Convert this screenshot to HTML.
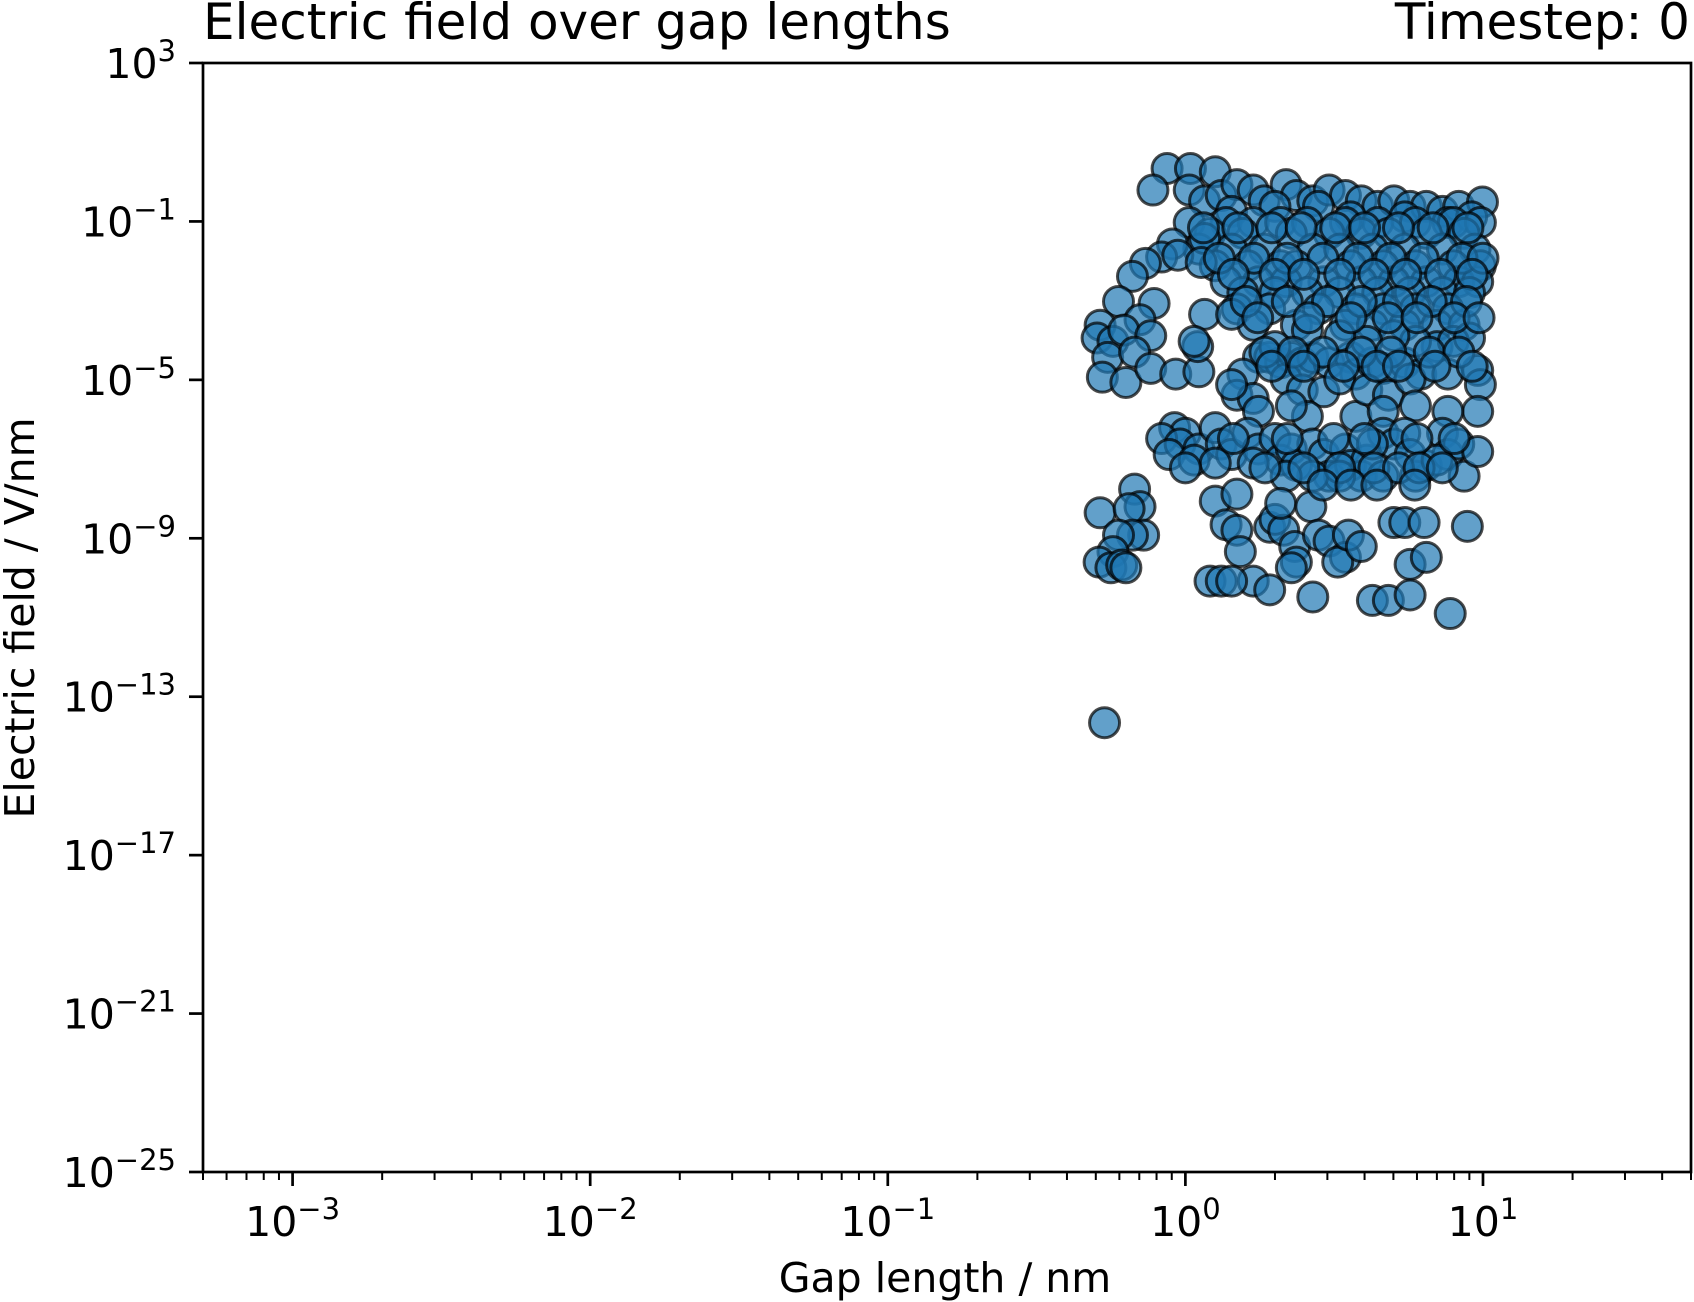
<!DOCTYPE html>
<html><head><meta charset="utf-8">
<style>
html,body{margin:0;padding:0;background:#fff;}
svg{display:block;font-family:"DejaVu Sans","Liberation Sans",sans-serif;}
</style></head>
<body>
<svg id="chart" width="1694" height="1302" viewBox="0 0 1694 1302" xmlns="http://www.w3.org/2000/svg">
<rect width="1694" height="1302" fill="#fff"/>
<text x="203" y="39" font-size="50">Electric field over gap lengths</text>
<text x="1690" y="39" font-size="50" text-anchor="end">Timestep: 0</text>
<g id="marks"></g>
<g id="axes"></g>
<text x="945" y="1292" font-size="41" text-anchor="middle">Gap length / nm</text>
<text transform="translate(34,618) rotate(-90)" font-size="41" text-anchor="middle">Electric field / V/nm</text>
</svg>
<script>
const xTickExps = [-3, -2, -1, 0, 1];
const yTickExps = [3, -1, -5, -9, -13, -17, -21, -25];
const gapLength = [
0.868,0.778,1.04,1.03,1.26,1.16,1.32,1.49,1.69,1.84,2.18,2.36,2.68,3.04,3.45,3.9,4.43,5.02,5.69,6.45,7.31,8.29,9.96,2.8,2.0,1.43,3.59,5.46,7.62,9.16,
1.03,1.37,1.69,2.09,2.57,3.45,4.43,5.93,7.95,9.8,
1.21,1.56,2.27,3.04,3.9,4.81,6.45,8.64,
1.11,1.43,1.84,2.68,3.3,4.25,5.46,7.31,9.4,
1.26,1.62,2.09,2.36,3.59,4.62,5.93,7.95,9.8,
1.37,1.76,2.18,2.92,3.9,5.02,6.45,8.29,9.6,
1.56,2.0,2.57,3.3,4.43,5.69,7.31,9.01,
1.49,1.92,2.8,3.74,4.62,5.93,7.62,
1.69,2.36,3.45,4.25,5.46,7.01,8.64,
0.905,0.832,0.734,0.664,0.596,0.785,0.704,0.517,0.505,0.571,0.548,0.621,0.765,0.675,0.526,0.631,0.765,0.928,1.11,1.10,1.16,0.943,1.16,1.13,1.07,1.43,
1.76,1.92,2.09,2.27,2.47,2.68,3.04,3.59,3.74,4.25,4.62,5.46,6.18,7.01,7.95,9.01,5.93,5.02,4.07,3.3,2.57,2.0,1.56,1.49,1.69,1.43,2.18,2.47,2.92,3.3,3.74,4.07,4.81,5.69,7.62,9.6,9.8,9.6,5.93,4.62,2.57,1.76,2.27,7.62,
0.92,1.0,0.832,0.96,0.882,1.11,1.07,1.26,1.32,1.43,1.26,1.62,1.76,2.0,2.09,2.27,2.36,2.68,2.92,3.04,3.45,3.59,3.9,4.07,4.62,5.02,5.46,5.69,5.93,6.45,7.31,7.62,8.29,8.64,9.6,4.62,3.3,2.68,4.25,7.01,1.69,2.18,
0.517,0.675,0.704,0.647,0.724,0.664,0.596,0.571,0.513,0.562,0.611,0.631,0.535,
1.26,1.49,1.37,1.49,1.53,1.21,1.32,1.69,1.92,2.0,2.14,2.09,2.33,2.36,2.64,2.8,3.04,3.45,3.25,3.53,3.9,1.92,2.68,2.27,5.02,5.46,6.34,8.86,5.69,6.45,4.25,4.81,5.69,7.76,1.43,
1.15,1.5,1.95,2.45,3.2,4.0,5.2,6.8,8.9,
1.3,1.7,2.2,2.9,3.8,4.9,6.3,8.5,10.0,
1.45,2.0,2.5,3.3,4.3,5.5,7.2,9.2,
1.6,2.2,3.0,3.9,5.2,6.7,8.8,
1.75,2.6,3.6,4.8,6.0,8.0,9.7,
1.85,2.3,2.9,3.9,4.9,6.6,8.3,
1.95,2.5,3.4,4.4,5.2,6.9,9.2,
1.45,2.2,3.15,4.0,6.0,8.0,
1.0,1.85,2.5,3.3,4.3,5.2,6.1,7.3,
2.9,3.6,4.4,5.9
];
const electricField = [
2.17,0.62,2.17,0.62,1.79,0.33,0.45,0.85,0.62,0.33,0.85,0.45,0.33,0.62,0.45,0.33,0.24,0.33,0.24,0.24,0.18,0.24,0.31,0.24,0.24,0.18,0.13,0.13,0.094,0.13,
0.094,0.094,0.094,0.094,0.094,0.094,0.094,0.094,0.094,0.094,
0.05,0.05,0.05,0.05,0.05,0.05,0.05,0.05,
0.02,0.02,0.02,0.02,0.02,0.02,0.02,0.02,0.02,
0.0076,0.0076,0.0076,0.0076,0.0076,0.0076,0.0076,0.0076,0.0076,
0.003,0.003,0.003,0.003,0.003,0.003,0.003,0.003,0.003,
0.0016,0.0016,0.0016,0.0016,0.0016,0.0016,0.0016,0.0016,
6.2e-4,6.2e-4,6.2e-4,6.2e-4,6.2e-4,6.2e-4,6.2e-4,
2.4e-4,2.4e-4,2.4e-4,2.4e-4,2.4e-4,2.4e-4,2.4e-4,
0.027,0.0126,0.0087,0.0041,9.5e-4,8.5e-4,3.3e-4,2.4e-4,1.14e-4,9.4e-5,3.7e-5,1.8e-4,1.3e-4,5.0e-5,1.17e-5,8.6e-6,1.95e-5,1.4e-5,1.6e-5,6.9e-5,4.5e-4,0.014,0.037,0.0092,9.4e-5,4.5e-4,
3.7e-5,3.7e-5,2.7e-5,3.7e-5,2.7e-5,3.7e-5,2.7e-5,3.7e-5,1.4e-5,2.7e-5,1.95e-5,2.7e-5,1.4e-5,6.9e-5,9.4e-5,1.14e-4,9.4e-5,1.3e-4,9.4e-5,1.3e-4,1.8e-4,6.9e-5,1.4e-5,4.1e-6,3.4e-6,7.6e-6,1.05e-5,5.6e-6,5.0e-6,1.05e-5,1.2e-6,5.6e-6,4.1e-6,1.05e-5,1.4e-5,1.73e-5,7.6e-6,1.6e-6,2.2e-6,1.6e-6,1.2e-6,1.6e-6,2.2e-6,1.6e-6,
6.2e-7,4.5e-7,3.3e-7,2.4e-7,1.3e-7,1.8e-7,9.4e-8,6.2e-7,2.4e-7,1.3e-7,7.9e-8,4.5e-7,1.8e-7,3.3e-7,9.4e-8,1.8e-7,6.9e-8,2.4e-7,1.3e-7,3.7e-8,1.8e-7,6.9e-8,3.7e-8,9.4e-8,4.5e-7,2.4e-7,4.5e-7,1.3e-7,3.7e-8,6.9e-8,4.5e-7,1.3e-7,2.4e-7,3.7e-8,1.55e-7,3.7e-8,3.7e-8,3.7e-8,2.4e-7,9.4e-8,7.9e-8,3.7e-8,
4.4e-9,1.74e-8,6.3e-9,5.6e-9,1.2e-9,1.2e-9,1.2e-9,4.6e-10,2.5e-10,1.8e-10,2.1e-10,1.8e-10,2.2e-14,
8.7e-9,1.3e-8,2.2e-9,1.6e-9,4.6e-10,8.3e-11,8.3e-11,8.3e-11,1.9e-9,3.0e-9,1.6e-9,7.6e-9,6.2e-10,2.5e-10,6.3e-9,1.2e-9,8.5e-10,3.3e-10,2.5e-10,1.2e-9,6.2e-10,5.0e-11,3.3e-11,1.8e-10,2.5e-9,2.5e-9,2.5e-9,2.0e-9,2.2e-10,3.3e-10,2.7e-11,2.7e-11,3.7e-11,1.26e-11,8.3e-11,
0.069,0.069,0.069,0.069,0.069,0.069,0.069,0.069,0.069,
0.0118,0.0118,0.0118,0.0118,0.0118,0.0118,0.0118,0.0118,0.0118,
0.0046,0.0046,0.0046,0.0046,0.0046,0.0046,0.0046,0.0046,
9.5e-4,9.5e-4,9.5e-4,9.5e-4,9.5e-4,9.5e-4,9.5e-4,
3.7e-4,3.7e-4,3.7e-4,3.7e-4,3.7e-4,3.7e-4,3.7e-4,
5.0e-5,5.0e-5,5.0e-5,5.0e-5,5.0e-5,5.0e-5,5.0e-5,
2.2e-5,2.2e-5,2.2e-5,2.2e-5,2.2e-5,2.2e-5,2.2e-5,
3.3e-7,3.3e-7,3.3e-7,3.3e-7,3.3e-7,3.3e-7,
6.0e-8,6.0e-8,6.0e-8,6.0e-8,6.0e-8,6.0e-8,6.0e-8,6.0e-8,
2.2e-8,2.2e-8,2.2e-8,2.2e-8
];

const NS = "http://www.w3.org/2000/svg";
const L = 203, R = 1691, T = 63, B = 1172;
const xMin = Math.log10(5e-4), xMax = Math.log10(50);
const yMin = -25, yMax = 3;
function xScale(v){ return L + (Math.log10(v) - xMin) / (xMax - xMin) * (R - L); }
function yScale(v){ return B - (Math.log10(v) - yMin) / (yMax - yMin) * (B - T); }
function mk(tag, attrs, parent){ const e = document.createElementNS(NS, tag); for (const k in attrs) e.setAttribute(k, attrs[k]); parent.appendChild(e); return e; }

const marks = document.getElementById('marks');
const n = Math.min(gapLength.length, electricField.length);
for (let i = 0; i < n; i++) {
  const c = mk('circle', {cx: xScale(gapLength[i]), cy: yScale(electricField[i]), r: 15, fill: 'rgba(31,119,180,0.7)', stroke: 'rgba(0,0,0,0.7)', 'stroke-width': 3}, marks);
  
  
}

const axes = document.getElementById('axes');
const frame = mk('rect', {x: L, y: T, width: R - L, height: B - T, fill: 'none', stroke: '#000', 'stroke-width': 2.7}, axes);



for (let d = -4; d <= 1; d++) {
  for (let m = 2; m <= 9; m++) {
    const v = m * Math.pow(10, d);
    if (v < 5e-4 || v > 50) continue;
    const x = xScale(v);
    const t = mk('line', {x1: x, x2: x, y1: B, y2: B + 8, stroke: '#000', 'stroke-width': 2}, axes);
    
    
  }
}
xTickExps.forEach(e => {
  const x = xScale(Math.pow(10, e));
  const t = mk('line', {x1: x, x2: x, y1: B, y2: B + 14, stroke: '#000', 'stroke-width': 2.7}, axes);
  
  
  const lab = mk('text', {x: x, y: 1236, 'font-size': 41, 'text-anchor': 'middle'}, axes);
  
  
  const s = (e < 0 ? '\u2212' : '') + Math.abs(e);
  lab.innerHTML = '10<tspan dy="-17" font-size="29">' + s + '</tspan>';
});
yTickExps.forEach(e => {
  const y = yScale(Math.pow(10, e));
  const t = mk('line', {x1: L - 14, x2: L, y1: y, y2: y, stroke: '#000', 'stroke-width': 2.7}, axes);
  
  
  const lab = mk('text', {x: 176, y: y + 15, 'font-size': 41, 'text-anchor': 'end'}, axes);
  
  
  const s = (e < 0 ? '\u2212' : '') + Math.abs(e);
  lab.innerHTML = '10<tspan dy="-17" font-size="29">' + s + '</tspan>';
});
</script>
</body></html>
